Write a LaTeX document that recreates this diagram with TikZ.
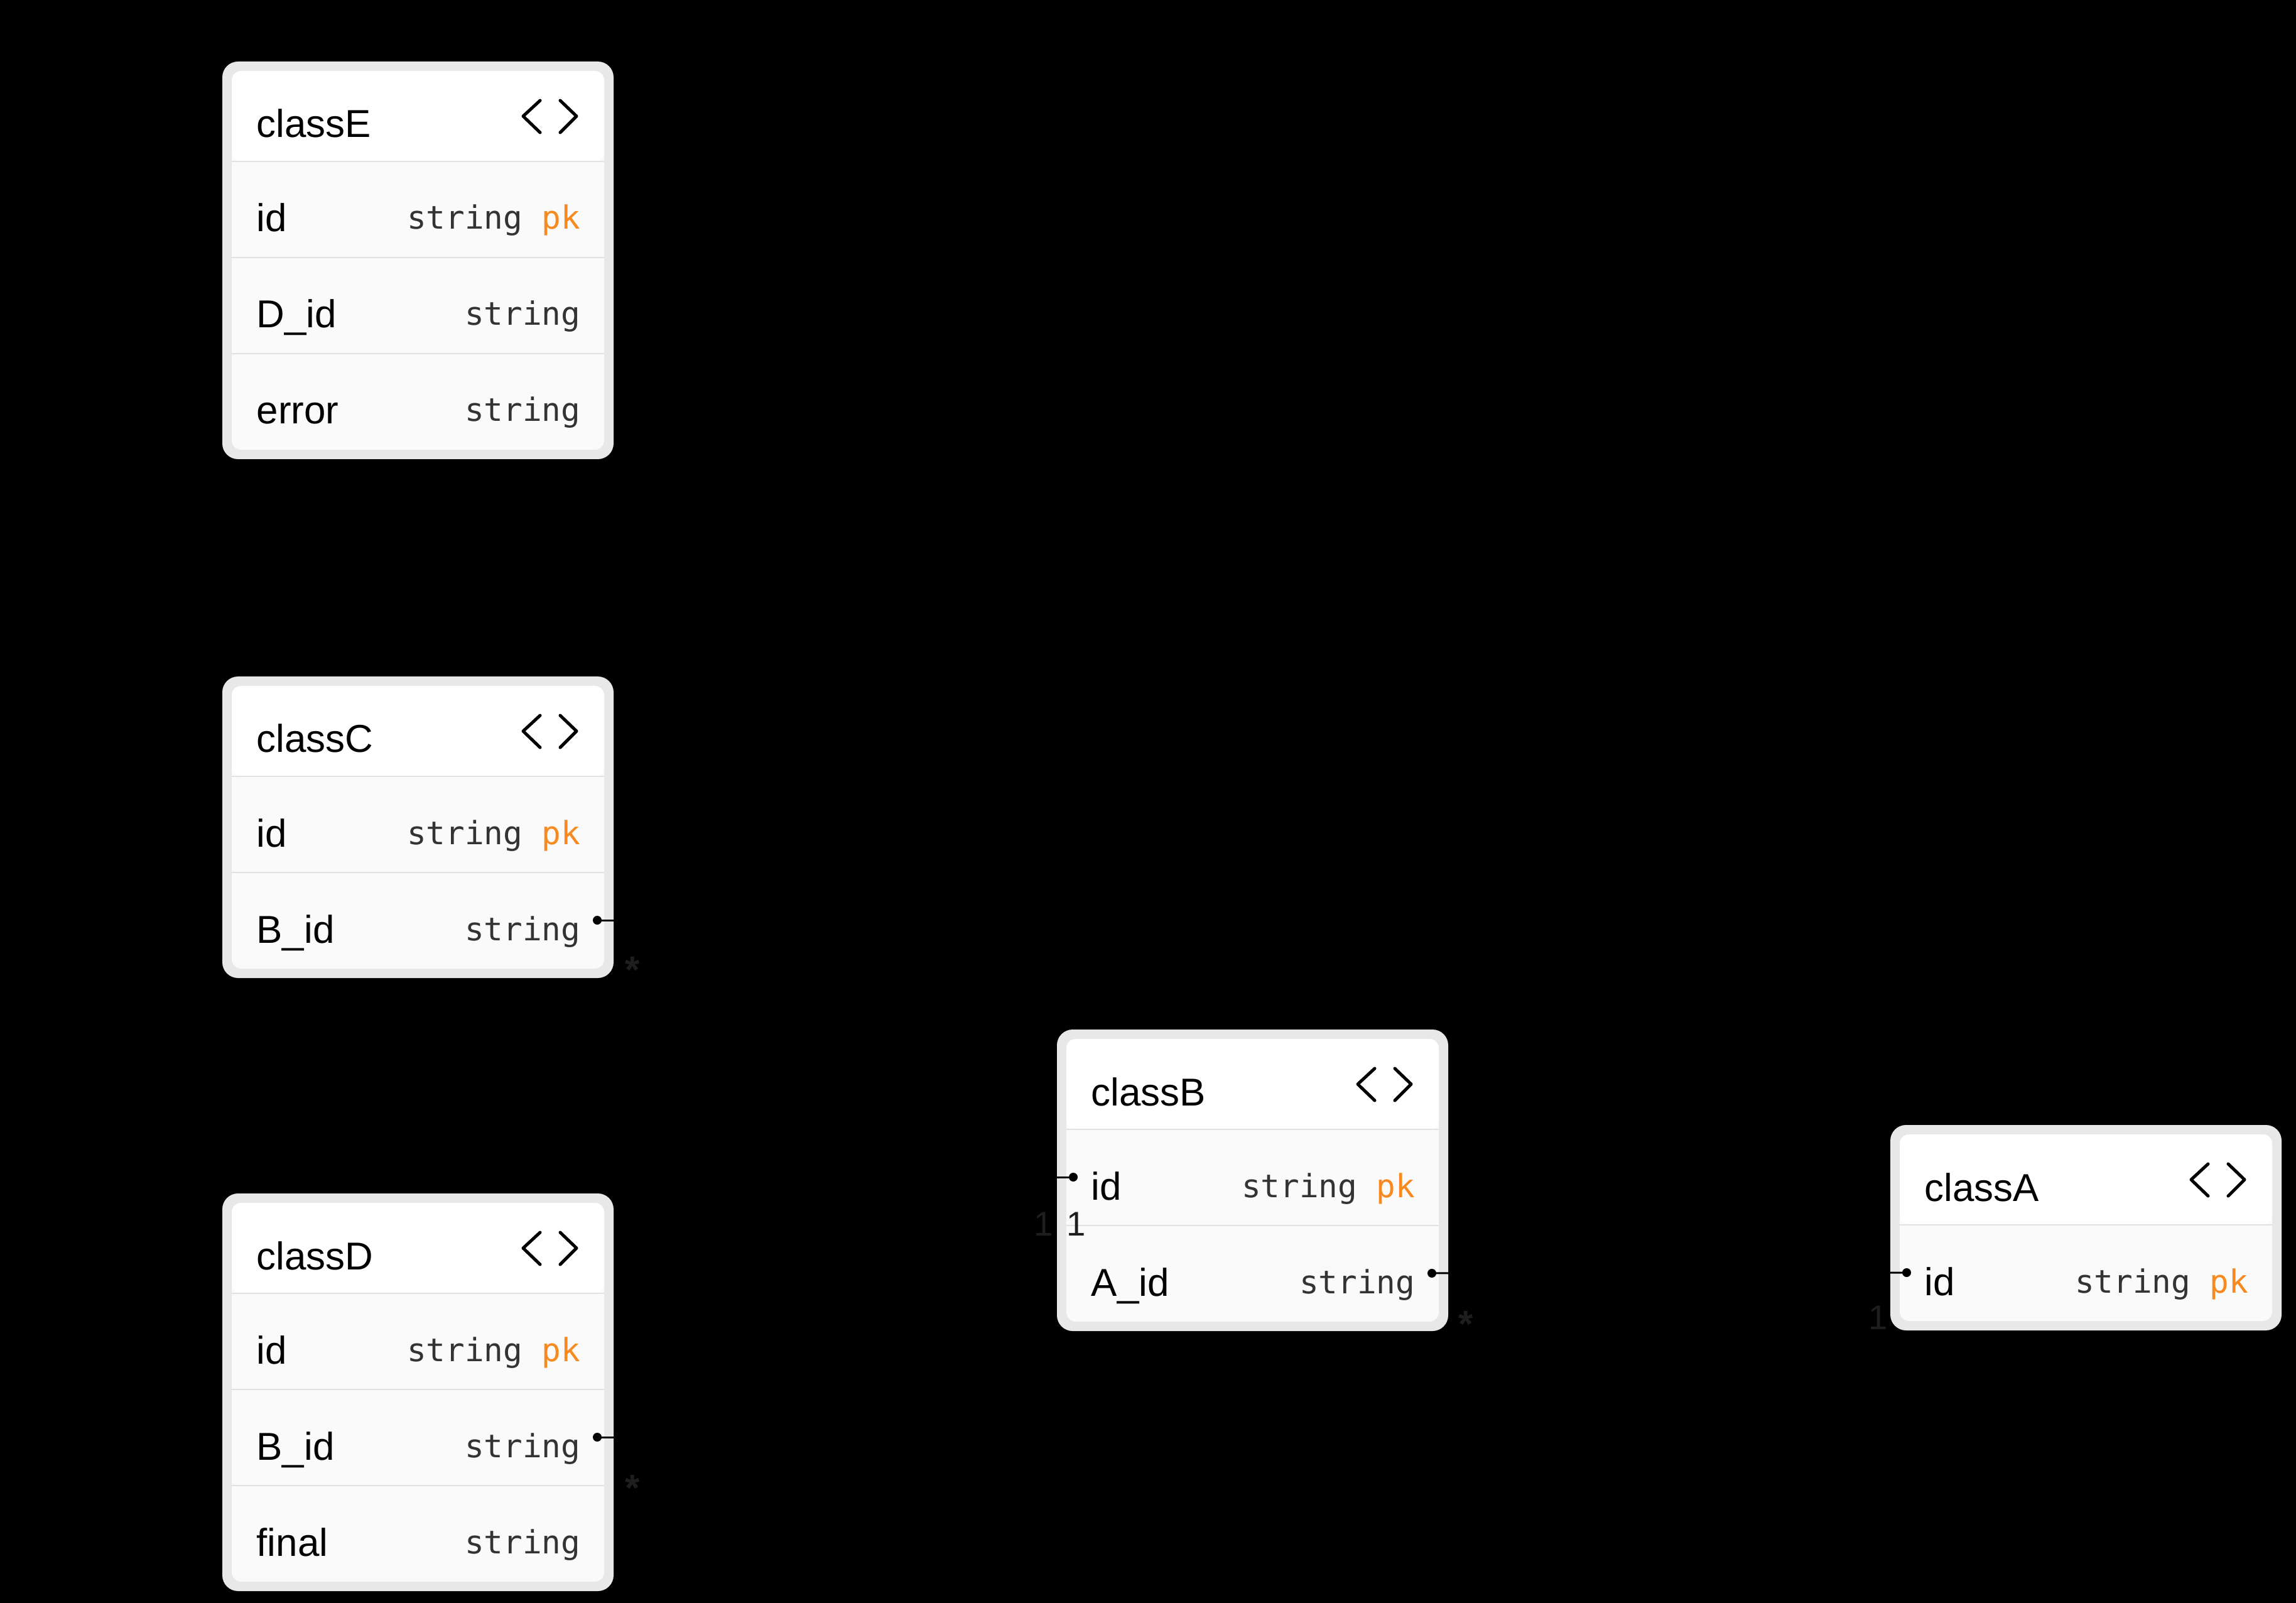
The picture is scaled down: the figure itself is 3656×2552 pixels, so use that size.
\documentclass[tikz,border=0pt]{standalone}
\usepackage{fontspec}
\setmainfont{Liberation Sans}
\setmonofont{DejaVu Sans Mono}
\usetikzlibrary{positioning}

\definecolor{pkorange}{RGB}{247,137,30}
\definecolor{rimgray}{RGB}{232,232,232}
\definecolor{rowgray}{RGB}{250,250,250}
\definecolor{sepgray}{RGB}{226,226,226}
\definecolor{typegray}{RGB}{51,51,51}
\definecolor{cardgray}{RGB}{30,30,30}

\begin{document}
\begin{tikzpicture}[x=0.01cm,y=-0.01cm,
	cadre/.style={fill=rimgray,rounded corners=0.25cm},
	fond/.style={fill=rowgray,rounded corners=0.15cm},
	entete/.style={fill=white,rounded corners=0.15cm},
	ligne/.style={draw=sepgray,line width=0.02cm},
	titre/.style={anchor=base west,inner sep=0,font=\fontsize{17.6}{20}\selectfont},
	champ/.style={anchor=base west,inner sep=0,font=\fontsize{17.6}{20}\selectfont},
	typ/.style={anchor=base east,inner sep=0,text=typegray,font=\ttfamily\fontsize{14.5}{17}\selectfont},
	chevron/.style={line width=0.05cm,line cap=round,line join=round},
	lien/.style={draw=black,line width=0.03cm},
	point/.style={fill=black},
	cardi/.style={inner sep=0,text=cardgray,font=\fontsize{15.5}{18}\selectfont},
	etoile/.style={inner sep=0,text=cardgray,font=\bfseries\fontsize{17}{20}\selectfont}]

	% fond
	\fill[black] (0,0) rectangle (3656,2552);
	\useasboundingbox (0,0) rectangle (3656,2552);

	% classe E
	\begin{scope}[shift={(354,98)}]
	\fill[cadre] (0,0) rectangle (623,633);
	\fill[fond] (15,15) rectangle (608,618);
	\fill[entete] (15,15) rectangle (608,159);
	\draw[ligne] (15,159) -- (608,159);
	\draw[ligne] (15,312) -- (608,312);
	\draw[ligne] (15,465) -- (608,465);
	\node[titre] (eTitre) at (54,121) {classE};
	\draw[chevron] (506,62) -- (479,87) -- (506,113);
	\draw[chevron] (538,62) -- (564,87) -- (538,113);
	\node[champ] (eId) at (54,271) {id};
	\node[typ] (eIdT) at (571,267) {string \textcolor{pkorange}{pk}};
	\node[champ] (eDid) at (54,424) {D\_id};
	\node[typ] (eDidT) at (571,420) {string};
	\node[champ] (eErr) at (54,577) {error};
	\node[typ] (eErrT) at (571,573) {string};
	\end{scope}

	% classe C
	\begin{scope}[shift={(354,1077)}]
	\fill[cadre] (0,0) rectangle (623,480);
	\fill[fond] (15,15) rectangle (608,465);
	\fill[entete] (15,15) rectangle (608,159);
	\draw[ligne] (15,159) -- (608,159);
	\draw[ligne] (15,312) -- (608,312);
	\node[titre] (cTitre) at (54,121) {classC};
	\draw[chevron] (506,62) -- (479,87) -- (506,113);
	\draw[chevron] (538,62) -- (564,87) -- (538,113);
	\node[champ] (cId) at (54,271) {id};
	\node[typ] (cIdT) at (571,267) {string \textcolor{pkorange}{pk}};
	\node[champ] (cBid) at (54,424) {B\_id};
	\node[typ] (cBidT) at (571,420) {string};
	\coordinate (cBidP) at (597,388);
	\end{scope}

	% classe D
	\begin{scope}[shift={(354,1900)}]
	\fill[cadre] (0,0) rectangle (623,633);
	\fill[fond] (15,15) rectangle (608,618);
	\fill[entete] (15,15) rectangle (608,159);
	\draw[ligne] (15,159) -- (608,159);
	\draw[ligne] (15,312) -- (608,312);
	\draw[ligne] (15,465) -- (608,465);
	\node[titre] (dTitre) at (54,121) {classD};
	\draw[chevron] (506,62) -- (479,87) -- (506,113);
	\draw[chevron] (538,62) -- (564,87) -- (538,113);
	\node[champ] (dId) at (54,271) {id};
	\node[typ] (dIdT) at (571,267) {string \textcolor{pkorange}{pk}};
	\node[champ] (dBid) at (54,424) {B\_id};
	\node[typ] (dBidT) at (571,420) {string};
	\node[champ] (dFinal) at (54,577) {final};
	\node[typ] (dFinalT) at (571,573) {string};
	\coordinate (dBidP) at (597,388);
	\end{scope}

	% classe B
	\begin{scope}[shift={(1683,1639)}]
	\fill[cadre] (0,0) rectangle (623,480);
	\fill[fond] (15,15) rectangle (608,465);
	\fill[entete] (15,15) rectangle (608,159);
	\draw[ligne] (15,159) -- (608,159);
	\draw[ligne] (15,312) -- (608,312);
	\node[titre] (bTitre) at (54,121) {classB};
	\draw[chevron] (506,62) -- (479,87) -- (506,113);
	\draw[chevron] (538,62) -- (564,87) -- (538,113);
	\node[champ] (bId) at (54,271) {id};
	\node[typ] (bIdT) at (571,267) {string \textcolor{pkorange}{pk}};
	\node[champ] (bAid) at (54,424) {A\_id};
	\node[typ] (bAidT) at (571,420) {string};
	\coordinate (bIdP) at (26,235);
	\coordinate (bAidP) at (597,388);
	\end{scope}

	% classe A
	\begin{scope}[shift={(3010,1791)}]
	\fill[cadre] (0,0) rectangle (623,327);
	\fill[fond] (15,15) rectangle (608,312);
	\fill[entete] (15,15) rectangle (608,159);
	\draw[ligne] (15,159) -- (608,159);
	\node[titre] (aTitre) at (54,121) {classA};
	\draw[chevron] (506,62) -- (479,87) -- (506,113);
	\draw[chevron] (538,62) -- (564,87) -- (538,113);
	\node[champ] (aId) at (54,271) {id};
	\node[typ] (aIdT) at (571,267) {string \textcolor{pkorange}{pk}};
	\coordinate (aIdP) at (26,235);
	\end{scope}

	% liens
	\draw[lien] (cBidP) -- ++(350,0) |- (bIdP);
	\draw[lien] (dBidP) -- ++(350,0) |- (bIdP);
	\draw[lien] (bAidP) -- (aIdP);
	\fill[point] (cBidP) circle (0.07cm);
	\fill[point] (dBidP) circle (0.07cm);
	\fill[point] (bIdP) circle (0.07cm);
	\fill[point] (bAidP) circle (0.07cm);
	\fill[point] (aIdP) circle (0.07cm);

	% cardinalites
	\node[etoile] (cStar) at (1007,1544) {*};
	\node[etoile] (dStar) at (1007,2369) {*};
	\node[etoile] (bStar) at (2334,2108) {*};
	\node[cardi] (bUn) at (1662,1949) {1};
	\node[cardi] (bUnBis) at (1714,1949) {1};
	\node[cardi] (aUn) at (2991,2098) {1};
\end{tikzpicture}
\end{document}
